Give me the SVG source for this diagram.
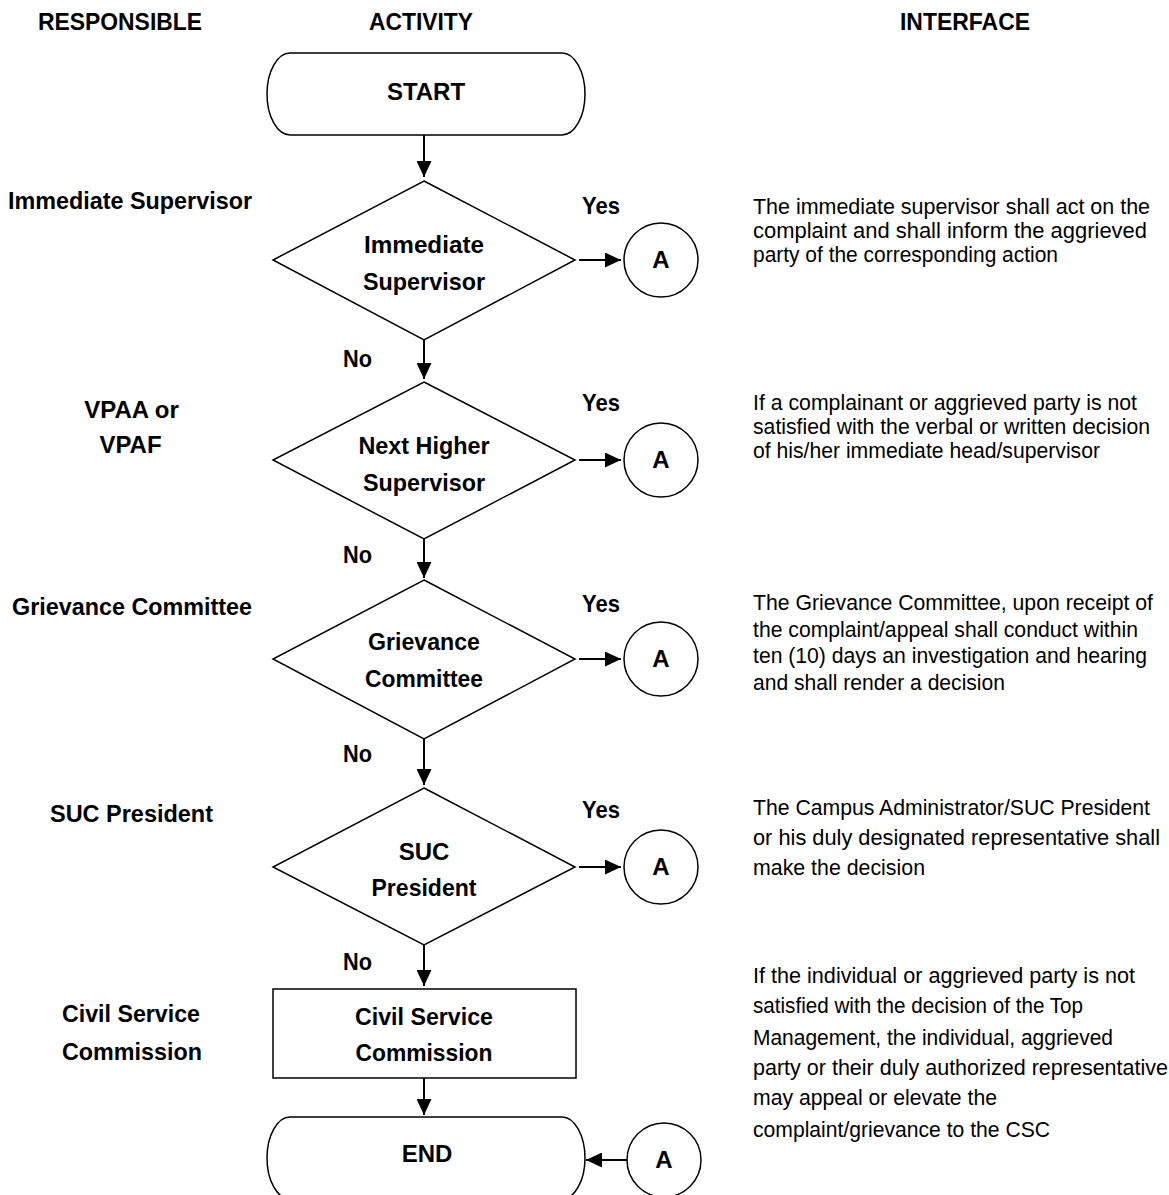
<svg xmlns="http://www.w3.org/2000/svg" width="1169" height="1195" viewBox="0 0 1169 1195">
<defs>
<marker id="ah" markerWidth="16" markerHeight="15" refX="16" refY="7.5" orient="auto" markerUnits="userSpaceOnUse">
<path d="M0,0 L16,7.5 L0,15 Z" fill="#000"/>
</marker>
</defs>
<style>
.b{font-family:"Liberation Sans",Arial,sans-serif;font-weight:bold;font-size:24px;fill:#000}
.m{text-anchor:middle}
.h{font-size:23px}
.r{font-family:"Liberation Sans",Arial,sans-serif;font-size:21.5px;fill:#000}
.s{fill:#fff;stroke:#000;stroke-width:1.5}
.c{stroke:#000;stroke-width:2;fill:none;marker-end:url(#ah)}
</style>
<rect width="1169" height="1195" fill="#fff"/>
<g id="headers">
<text class="b h" x="38" y="30" textLength="164" lengthAdjust="spacingAndGlyphs">RESPONSIBLE</text>
<text class="b h" x="369" y="30" textLength="104" lengthAdjust="spacingAndGlyphs">ACTIVITY</text>
<text class="b h" x="900" y="30" textLength="130" lengthAdjust="spacingAndGlyphs">INTERFACE</text>
</g>
<g id="responsible">
<text class="b m" x="130" y="209" textLength="244" lengthAdjust="spacingAndGlyphs">Immediate Supervisor</text>
<text class="b m" x="131.5" y="418">VPAA or</text>
<text class="b m" x="130.5" y="453">VPAF</text>
<text class="b m" x="132" y="615" textLength="240" lengthAdjust="spacingAndGlyphs">Grievance Committee</text>
<text class="b m" x="131.5" y="822" textLength="163" lengthAdjust="spacingAndGlyphs">SUC President</text>
<text class="b m" x="131" y="1022" textLength="138" lengthAdjust="spacingAndGlyphs">Civil Service</text>
<text class="b m" x="132" y="1060" textLength="140" lengthAdjust="spacingAndGlyphs">Commission</text>
</g>
<g id="start">
<path class="s" d="M290,53 H562 A23,41 0 0 1 562,135 H290 A23,41 0 0 1 290,53 Z"/>
<text class="b m" x="426" y="100">START</text>
</g>
<g id="d1">
<path class="s" d="M424,181 L575,260 L424,340 L273,260 Z"/>
<text class="b m" x="424" y="253" textLength="120" lengthAdjust="spacingAndGlyphs">Immediate</text>
<text class="b m" x="424" y="290" textLength="122" lengthAdjust="spacingAndGlyphs">Supervisor</text>
</g>
<g id="d2">
<path class="s" d="M424,382 L575,460 L424,539 L273,460 Z"/>
<text class="b m" x="424" y="454" textLength="131" lengthAdjust="spacingAndGlyphs">Next Higher</text>
<text class="b m" x="424" y="491" textLength="122" lengthAdjust="spacingAndGlyphs">Supervisor</text>
</g>
<g id="d3">
<path class="s" d="M424,580 L575,659 L424,739 L273,659 Z"/>
<text class="b m" x="424" y="650" textLength="112" lengthAdjust="spacingAndGlyphs">Grievance</text>
<text class="b m" x="424" y="687" textLength="118" lengthAdjust="spacingAndGlyphs">Committee</text>
</g>
<g id="d4">
<path class="s" d="M424,788 L575,867 L424,945 L273,867 Z"/>
<text class="b m" x="424" y="860">SUC</text>
<text class="b m" x="424" y="896" textLength="105" lengthAdjust="spacingAndGlyphs">President</text>
</g>
<g id="csc">
<rect class="s" x="273" y="989" width="303" height="89"/>
<text class="b m" x="424" y="1025" textLength="138" lengthAdjust="spacingAndGlyphs">Civil Service</text>
<text class="b m" x="424" y="1061" textLength="137" lengthAdjust="spacingAndGlyphs">Commission</text>
</g>
<g id="end">
<path class="s" d="M290,1117 H562 A23,41 0 0 1 562,1199 H290 A23,41 0 0 1 290,1117 Z"/>
<text class="b m" x="427" y="1162">END</text>
</g>
<g id="a1"><circle class="s" cx="661" cy="260" r="37"/><text class="b m" x="661" y="268">A</text></g>
<g id="a2"><circle class="s" cx="661" cy="460" r="37"/><text class="b m" x="661" y="468">A</text></g>
<g id="a3"><circle class="s" cx="661" cy="659" r="37"/><text class="b m" x="661" y="667">A</text></g>
<g id="a4"><circle class="s" cx="661" cy="867" r="37"/><text class="b m" x="661" y="875">A</text></g>
<g id="a5"><circle class="s" cx="664" cy="1160" r="37"/><text class="b m" x="664" y="1168">A</text></g>
<g id="connectors">
<line class="c" x1="424" y1="135" x2="424" y2="177"/>
<line class="c" x1="424" y1="340" x2="424" y2="379"/>
<line class="c" x1="424" y1="539" x2="424" y2="578"/>
<line class="c" x1="424" y1="739" x2="424" y2="785"/>
<line class="c" x1="424" y1="945" x2="424" y2="986"/>
<line class="c" x1="424" y1="1078" x2="424" y2="1115"/>
<line class="c" x1="579" y1="260" x2="621" y2="260"/>
<line class="c" x1="579" y1="460" x2="621" y2="460"/>
<line class="c" x1="579" y1="659" x2="621" y2="659"/>
<line class="c" x1="579" y1="867" x2="621" y2="867"/>
<line class="c" x1="627" y1="1160" x2="586" y2="1160"/>
</g>
<g id="labels">
<text class="b" x="582" y="214" textLength="38" lengthAdjust="spacingAndGlyphs">Yes</text>
<text class="b" x="582" y="411" textLength="38" lengthAdjust="spacingAndGlyphs">Yes</text>
<text class="b" x="582" y="612" textLength="38" lengthAdjust="spacingAndGlyphs">Yes</text>
<text class="b" x="582" y="818" textLength="38" lengthAdjust="spacingAndGlyphs">Yes</text>
<text class="b" x="343" y="367" textLength="29" lengthAdjust="spacingAndGlyphs">No</text>
<text class="b" x="343" y="563" textLength="29" lengthAdjust="spacingAndGlyphs">No</text>
<text class="b" x="343" y="762" textLength="29" lengthAdjust="spacingAndGlyphs">No</text>
<text class="b" x="343" y="970" textLength="29" lengthAdjust="spacingAndGlyphs">No</text>
</g>
<g id="interface">
<text class="r" x="753" y="214" textLength="397" lengthAdjust="spacingAndGlyphs">The immediate supervisor shall act on the</text>
<text class="r" x="753" y="238" textLength="394" lengthAdjust="spacingAndGlyphs">complaint and shall inform the aggrieved</text>
<text class="r" x="753" y="262" textLength="305" lengthAdjust="spacingAndGlyphs">party of the corresponding action</text>
<text class="r" x="753" y="410" textLength="384" lengthAdjust="spacingAndGlyphs">If a complainant or aggrieved party is not</text>
<text class="r" x="753" y="434" textLength="397" lengthAdjust="spacingAndGlyphs">satisfied with the verbal or written decision</text>
<text class="r" x="753" y="458" textLength="347" lengthAdjust="spacingAndGlyphs">of his/her immediate head/supervisor</text>
<text class="r" x="753" y="610" textLength="400" lengthAdjust="spacingAndGlyphs">The Grievance Committee, upon receipt of</text>
<text class="r" x="753" y="637" textLength="385" lengthAdjust="spacingAndGlyphs">the complaint/appeal shall conduct within</text>
<text class="r" x="753" y="663" textLength="394" lengthAdjust="spacingAndGlyphs">ten (10) days an investigation and hearing</text>
<text class="r" x="753" y="690" textLength="252" lengthAdjust="spacingAndGlyphs">and shall render a decision</text>
<text class="r" x="753" y="815" textLength="397" lengthAdjust="spacingAndGlyphs">The Campus Administrator/SUC President</text>
<text class="r" x="753" y="845" textLength="407" lengthAdjust="spacingAndGlyphs">or his duly designated representative shall</text>
<text class="r" x="753" y="875" textLength="172" lengthAdjust="spacingAndGlyphs">make the decision</text>
<text class="r" x="753" y="983" textLength="382" lengthAdjust="spacingAndGlyphs">If the individual or aggrieved party is not</text>
<text class="r" x="753" y="1013" textLength="330" lengthAdjust="spacingAndGlyphs">satisfied with the decision of the Top</text>
<text class="r" x="753" y="1045" textLength="360" lengthAdjust="spacingAndGlyphs">Management, the individual, aggrieved</text>
<text class="r" x="753" y="1075" textLength="415" lengthAdjust="spacingAndGlyphs">party or their duly authorized representative</text>
<text class="r" x="753" y="1105" textLength="244" lengthAdjust="spacingAndGlyphs">may appeal or elevate the</text>
<text class="r" x="753" y="1137" textLength="297" lengthAdjust="spacingAndGlyphs">complaint/grievance to the CSC</text>
</g>
</svg>
